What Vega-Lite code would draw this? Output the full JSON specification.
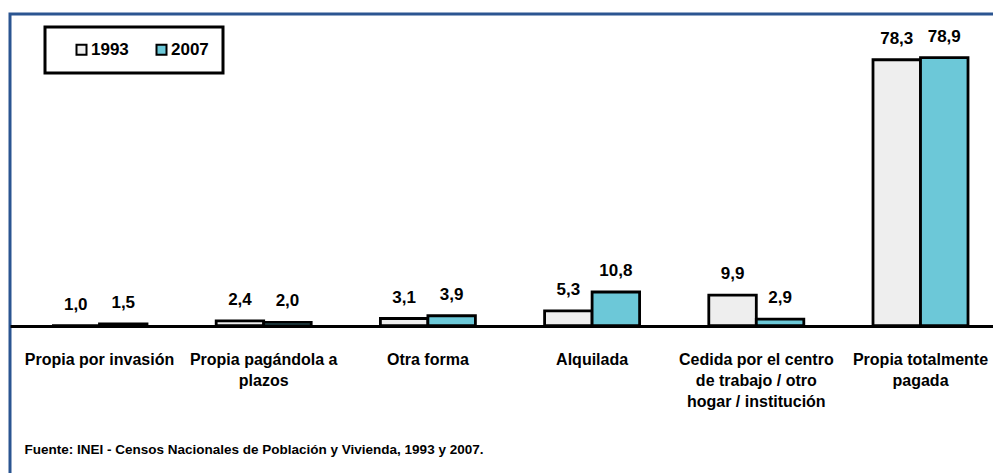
{
  "$schema": "https://vega.github.io/schema/vega-lite/v6.json",
  "autosize": {"type": "none"},
  "padding": {"left": 10, "top": 14, "right": 0, "bottom": 0},
  "width": 1000,
  "height": 470,
  "background": "white",
  "config": {
    "view": {"stroke": "#2b5591", "strokeWidth": 3},
    "locale": {"number": {"decimal": ",", "thousands": ".", "grouping": [3], "currency": ["", ""]}},
    "font": "Liberation Sans"
  },
  "data": {
    "values": [
      {"cat": "Propia por invasión", "year": "1993", "value": 1.0},
      {"cat": "Propia por invasión", "year": "2007", "value": 1.5},
      {"cat": "Propia pagándola a|plazos", "year": "1993", "value": 2.4},
      {"cat": "Propia pagándola a|plazos", "year": "2007", "value": 2.0},
      {"cat": "Otra forma", "year": "1993", "value": 3.1},
      {"cat": "Otra forma", "year": "2007", "value": 3.9},
      {"cat": "Alquilada", "year": "1993", "value": 5.3},
      {"cat": "Alquilada", "year": "2007", "value": 10.8},
      {"cat": "Cedida por el centro|de trabajo / otro|hogar / institución", "year": "1993", "value": 9.9},
      {"cat": "Cedida por el centro|de trabajo / otro|hogar / institución", "year": "2007", "value": 2.9},
      {"cat": "Propia totalmente|pagada", "year": "1993", "value": 78.3},
      {"cat": "Propia totalmente|pagada", "year": "2007", "value": 78.9}
    ]
  },
  "encoding": {
    "x": {
      "field": "cat", "type": "nominal", "sort": null,
      "scale": {"paddingInner": 0.4214, "paddingOuter": 0.2557},
      "axis": {
        "orient": "bottom", "offset": -158,
        "domainColor": "black", "domainWidth": 3,
        "ticks": false, "labelAngle": 0,
        "labelExpr": "split(datum.label, '|')",
        "labelFont": "Liberation Sans",
        "labelFontSize": 16, "labelFontWeight": "bold", "labelColor": "black",
        "labelLineHeight": 21, "labelPadding": 25, "labelLimit": 300,
        "title": "Fuente: INEI - Censos Nacionales de Población y Vivienda, 1993  y  2007.",
        "titleX": 14, "titleY": 123, "titleAlign": "left", "titleBaseline": "middle",
        "titleFont": "Liberation Sans",
        "titleFontSize": 13.5, "titleFontWeight": "bold", "titleColor": "black"
      }
    },
    "xOffset": {"field": "year", "type": "nominal", "scale": {"paddingInner": 0, "paddingOuter": 0}},
    "y": {
      "field": "value", "type": "quantitative",
      "scale": {"domain": [-45, 91.6], "nice": false, "zero": false},
      "axis": null
    }
  },
  "layer": [
    {
      "mark": {"type": "bar", "stroke": "black", "strokeWidth": 2.8},
      "encoding": {
        "y2": {"datum": 1},
        "color": {
          "field": "year", "type": "nominal",
          "scale": {"domain": ["1993", "2007"], "range": ["#eeeeee", "#6cc8d8"]},
          "legend": {
            "orient": "none", "legendX": 35, "legendY": 13,
            "direction": "horizontal", "title": null,
            "strokeColor": "black", "fillColor": "white",
            "padding": 14, "columnPadding": 10,
            "symbolType": "square", "symbolSize": 100, "symbolOffset": 14,
            "symbolStrokeColor": "black", "symbolStrokeWidth": 2, "symbolOpacity": 1,
            "labelFont": "Liberation Sans",
            "labelFontSize": 17, "labelFontWeight": "bold", "labelColor": "black",
            "labelOffset": 1,
            "encode": {"legend": {"update": {"strokeWidth": {"value": 3}}}}
          }
        }
      }
    },
    {
      "mark": {"type": "text", "baseline": "alphabetic", "dy": -16, "fontSize": 17, "fontWeight": "bold", "color": "black",
               "font": "Liberation Sans"},
      "encoding": {
        "text": {"field": "value", "type": "quantitative", "format": ".1f"}
      }
    }
  ]
}
